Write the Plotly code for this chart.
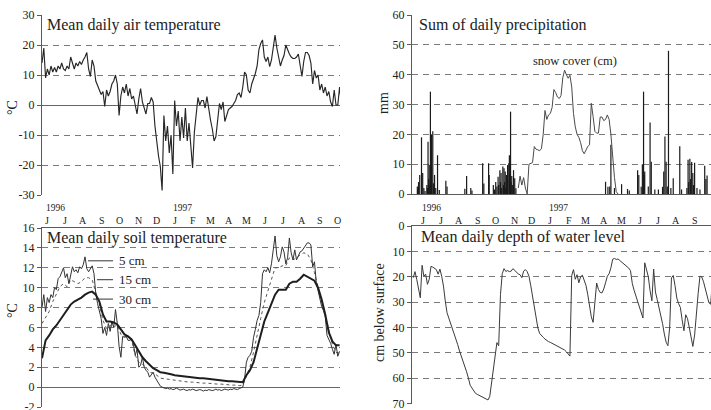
import datetime as dt
import plotly.graph_objects as go

W, H = 711, 410
FONT = "Liberation Serif, Times New Roman, serif"
INK = "#222222"
GRID = "#7a7a7a"
AXIS = "#5a5a5a"

# ---------------------------------------------------------------- data
# Left column: series sampled on a regular grid of days from LEFT_START
LEFT_START = dt.datetime(1996, 6, 8)
LEFT_SPAN_DAYS = 498.7

MONTH_LETTERS = ["J", "J", "A", "S", "O", "N", "D", "J", "F", "M",
                 "A", "M", "J", "J", "A", "S", "O"]
YEAR_LABELS = ["1996", "1997"]

AIR_STEP = 3  # days
air_temp = [
    14, 19, 9, 12, 10, 13, 11, 12.5, 11, 13,
    12, 14, 12, 11.5, 13, 12, 16, 14, 12, 14,
    13, 14.5, 13.5, 15, 16, 17.5, 12, 9.5, 15, 13,
    8, 6.5, 5, 3.5, 4.5, -0.5, 5, 3, 4.5, 7,
    8, 10, 7, -3.5, 3, 6, 4, 7, 3, 5.5,
    2, 3, 0, -3, 2, 5.5, 1, -1, -3, 0.5,
    0.5, 2.5, 1, -7, -13, -17, -20.5, -28.5, -3.5, -12,
    -7, -16, -10, -23, 1.5, -7, -2, -12, -4, -11,
    -1, -12, -6, -14, -21, -9, -3, 2.5, 0, 1.5,
    1.5, -1, 2.8, -1.5, -5, -8, -12, -10.5, -4, 0.5,
    -1.5, 1, -5.5, -3, -1.5, -1, -0.5, 0.5, 1.5, 3.5,
    4, 2.5, 6, 11, 10, 5, 4, 7, 8.5, 10.5,
    13, 18.5, 20.5, 21.7, 16, 14.5, 16, 12.8, 15, 19.5,
    23.3, 19, 15.5, 13, 15, 16.5, 20, 18.3, 17, 16,
    15.5, 15.5, 16, 17, 13.5, 9.5, 14.5, 17.5, 17.5, 16.5,
    14, 7, 11.5, 9, 10, 5, 7, 4, 6, 3,
    4.5, 1, -0.5, 5, 0, 0, 6, 0.5,
]

SOIL5_STEP = 3
soil_5cm = [
    8.0, 9.3, 7.6, 9.0, 8.5, 9.3, 9.0, 10.0, 9.8, 10.9,
    11.1, 11.6, 12.0, 11.0, 11.4, 10.4, 11.3, 12.1, 11.6, 11.8,
    11.5, 12.1, 11.9, 12.3, 13.1, 11.9, 11.6, 11.9, 12.2, 11.4,
    9.4, 8.4, 7.6, 6.9, 5.4, 6.0, 5.2, 6.4, 5.6, 6.6,
    6.0, 7.8, 6.4, 4.1, 3.0, 5.1, 5.0, 5.1, 4.7, 4.7,
    4.8, 4.3, 3.2, 3.8, 2.0, 2.2, 3.0, 2.0, 1.7, 1.5,
    1.0, 1.2, 1.5, 1.0, 0.7, 0.4, 0.1,
    0.0, -0.1, -0.15, -0.1, -0.2, -0.15, -0.25, -0.2, -0.1, -0.2,
    -0.3, -0.25, -0.2, -0.3, -0.35, -0.25, -0.3, -0.2, -0.3, -0.35,
    -0.3, -0.25, -0.3, -0.4, -0.3, -0.35, -0.25, -0.3, -0.35, -0.3,
    -0.2, -0.3, -0.25, -0.35, -0.3, -0.2, -0.25, -0.3, -0.2, -0.25,
    -0.15, -0.2, -0.25, -0.15, -0.1, 0.0,
    0.8, 2.5, 3.0, 3.2, 3.6, 5.0, 5.8, 6.7, 7.2, 8.5,
    11.4, 11.8, 11.6, 12.0, 11.5, 12.4, 13.8, 15.2, 13.2, 12.6,
    13.1, 14.1, 13.6, 12.4, 13.0, 15.0, 13.5, 12.8, 13.8, 12.8,
    13.2, 13.6, 13.7, 14.0, 14.2, 14.5, 14.5, 14.3, 12.1, 12.6,
    10.5, 9.6, 8.9, 8.1, 7.7, 7.1, 5.2, 4.8, 4.4, 3.8,
    3.3, 4.3, 3.1, 3.6,
]

SOIL_DEEP_STEP = 6
soil_15cm = [
    6.4, 7.0, 7.6, 8.6, 9.3, 10.1, 10.4, 10.1, 10.8, 10.6,
    10.4, 10.6, 11.0, 11.0, 10.8, 9.5, 8.4, 6.7, 5.9, 6.2,
    6.0, 6.3, 5.3, 5.1, 5.0, 4.7, 3.2, 2.5, 2.3, 2.0,
    1.5, 1.4, 1.2, 0.9, 0.85, 0.8, 0.7, 0.65, 0.6, 0.55,
    0.5, 0.5, 0.5, 0.45, 0.45, 0.4, 0.4, 0.35, 0.35, 0.3,
    0.3, 0.25, 0.25, 0.2, 0.2, 0.15, 0.2, 1.2, 2.0, 3.5,
    5.3, 6.9, 8.5, 9.6, 10.9, 12.0, 12.0, 12.2, 12.2, 13.0,
    12.8, 13.0, 13.3, 13.5, 13.4, 12.8, 11.5, 10.0, 8.8, 7.0,
    5.5, 4.3, 3.5, 3.4,
]
soil_30cm = [
    2.9, 4.7, 5.2, 5.8, 6.2, 6.7, 7.2, 7.8, 8.3, 8.6,
    8.8, 9.0, 9.3, 9.5, 9.6, 9.3, 8.6, 7.3, 6.6, 6.6,
    6.5, 6.3, 5.8, 5.3, 5.1, 4.8, 4.2, 3.6, 3.0, 2.6,
    2.2, 1.9, 1.7, 1.5, 1.45, 1.4, 1.3, 1.2, 1.15, 1.1,
    1.05, 1.0, 1.0, 0.95, 0.9, 0.9, 0.85, 0.8, 0.75, 0.7,
    0.7, 0.65, 0.6, 0.6, 0.55, 0.5, 0.5, 1.2, 1.7, 2.5,
    3.8, 5.2, 6.6, 7.5, 8.5, 9.3, 9.8, 9.8, 9.8, 10.4,
    10.6, 10.6, 10.9, 11.3, 11.1, 10.9, 10.7, 10.0, 8.8, 7.3,
    5.5, 4.6, 4.2, 4.2,
]
SOIL_LABELS = ["5 cm", "15 cm", "30 cm"]

# Right column: day offsets counted from RIGHT_START
RIGHT_START = dt.datetime(1996, 5, 27, 12)
RIGHT_SPAN_DAYS = 503.6

precip_day = [
    9, 10, 11, 13, 16, 18, 20, 22, 25, 26,
    27, 28, 29, 30, 31, 32, 33, 35, 36, 37,
    38, 40, 43, 46, 57, 59, 89, 92, 99, 101,
    119, 121, 129, 130, 137, 139, 141, 143, 145, 146,
    148, 149, 150, 151, 153, 154, 155, 156, 157, 158,
    159, 160, 161, 163, 164, 165, 166, 167, 168, 169,
    171, 173, 175,
    326, 330, 333, 335, 341, 353, 363, 366, 380, 382,
    386, 388, 390, 391, 392, 398, 401, 403, 409, 415,
    422, 424, 426, 428, 430, 432, 436, 440, 451, 454,
    463, 465, 466, 468, 469, 471, 473, 474, 476, 480,
    485, 493, 495, 497,
]
precip_mm = [
    2.5, 1.5, 4, 6.4, 19, 7, 2, 1, 3, 2,
    17.5, 5, 9.7, 3, 34.3, 8, 20, 21, 3.6, 1.5,
    6.4, 2, 13, 1.3, 4.4, 2.5, 1.8, 6, 2, 1.2,
    10.3, 3.5, 10.3, 6.4, 3, 1.5, 4, 2.5, 5.8, 3,
    8, 4, 7, 2, 9.2, 3, 8.6, 4, 7.5, 2,
    6.4, 3, 9.7, 10.3, 13, 6, 27.6, 4, 6, 3,
    8, 5.3, 1.9,
    4.1, 2.4, 2.5, 16.5, 2, 3.3, 1.7, 1.2, 8, 6.4,
    2.4, 10, 34.3, 6.4, 7.5, 2.5, 24, 10.8, 1.5, 1.5,
    2.4, 7.5, 19.3, 10.8, 2.5, 48, 2, 5.3, 16, 1.5,
    2, 11.5, 4, 11.8, 5, 10.7, 7, 3, 10.5, 2,
    1.5, 9.5, 5, 6.2,
]

SNOW_FIRST_DAY, SNOW_STEP = 179, 3
snow_cm = [
    2, 6, 3, 5.5, 2, 0, 10, 10.2, 10.5, 15.9,
    15, 14.8, 14.5, 15.2, 20, 28, 25, 26.5, 27, 29,
    35, 34, 32.5, 32, 33, 39, 41.5, 40, 38.8, 39.8,
    35.9, 27, 22.5, 20, 19, 17.2, 14.5, 13.5, 15, 15.9,
    16.5, 30.4, 26, 21, 20.4, 20.4, 25.8, 25.8, 24.6, 25,
    26.5, 25, 20, 12, 5.5, 0.8, 0,
]

WATER_FIRST_DAY, WATER_STEP = 2, 3
water_depth_cm = [
    20.4, 18, 21.1, 24.4, 28.3, 15.5, 19.8, 19, 23, 21,
    15.9, 16.2, 16.8, 17.2, 19, 17, 19.8, 23.7, 29.5, 34.2,
    36.3, 38.3, 41, 42.7, 45.1, 46.8, 49.3, 51.2, 53.4, 55.3,
    57.5, 60, 62.8, 63.9, 64.8, 66, 66.4, 66.8, 67.1, 67.5,
    68, 68.1, 68.6, 67.2, 62, 57.8, 51.2, 46, 47.2, 27,
    18.8, 16.8, 17.9, 17.6, 18, 17.8, 16.8, 17.5, 18.3, 18.9,
    19.2, 20.4, 17.8, 17.2, 18, 19.8, 23.5, 28, 33, 37,
    40.2, 42.4, 43.3, 43.9, 44.6, 45.3, 45.6, 45.9, 46.3, 46.6,
    47, 47.3, 47.7, 48, 48.4, 48.9, 49.6, 50.3, 51.3, 19.5,
    17.2, 21, 19.2, 22.4, 20, 19.4, 21.2, 23.4, 27, 31.8,
    35.8, 38, 29, 22.5, 25, 26.2, 26.4, 24.8, 22.4, 19.8,
    18.8, 16.5, 13.1, 12.8, 13.2, 13, 13.6, 14.2, 15, 15.5,
    15.9, 16.6, 17.6, 22.6, 25.3, 27.5, 29.5, 32, 33.5, 36.3,
    14.5, 17, 20, 25.5, 29.5, 17, 26, 29, 31.8, 35.3,
    38.5, 42.6, 45.8, 47.2, 40, 20.5, 19.5, 23.5, 28.4, 30.6,
    32.1, 37, 41.3, 35, 36.5, 40, 44.5, 47.5, 43, 33.5,
    26.5, 19.8, 20.1, 22, 24.7, 27.5, 30.2, 30.9, 21.5,
]

# Tick values of the four value axes
AIR_TICKS = [-30, -20, -10, 0, 10, 20, 30]
PRECIP_TICKS = [0, 10, 20, 30, 40, 50, 60]
SOIL_TICKS = [-2, 0, 2, 4, 6, 8, 10, 12, 14, 16]
WATER_TICKS = [0, 10, 20, 30, 40, 50, 60, 70]


# ---------------------------------------------------------------- helpers
def grid_dates(start, first, step, n):
    return [start + dt.timedelta(days=first + step * i) for i in range(n)]


def day(start, offset):
    return start + dt.timedelta(days=offset)


def month_ticks(day_of_month):
    out = []
    y, m = 1996, 6
    for _ in MONTH_LETTERS:
        out.append(dt.datetime(y, m, day_of_month, 8))
        m += 1
        if m > 12:
            y, m = y + 1, 1
    return out


def px(x):
    return x / W


def py(y):
    return 1 - y / H


fig = go.Figure()

# Mean daily air temperature
fig.add_trace(go.Scatter(
    x=grid_dates(LEFT_START, 0, AIR_STEP, len(air_temp)), y=air_temp,
    mode="lines", line=dict(color="#262626", width=1.15),
    xaxis="x", yaxis="y"))

# Daily precipitation drawn as thin vertical strokes, then snow cover
stem_x, stem_y = [], []
for d, mm in zip(precip_day, precip_mm):
    t = day(RIGHT_START, d)
    stem_x += [t, t, None]
    stem_y += [0, mm, None]
fig.add_trace(go.Scatter(
    x=stem_x, y=stem_y, mode="lines", connectgaps=False,
    line=dict(color="#1a1a1a", width=1.2),
    xaxis="x2", yaxis="y2"))
fig.add_trace(go.Scatter(
    x=grid_dates(RIGHT_START, SNOW_FIRST_DAY, SNOW_STEP, len(snow_cm)),
    y=snow_cm, mode="lines", line=dict(color="#4a4a4a", width=1),
    xaxis="x2", yaxis="y2"))

# Soil temperature at three depths
fig.add_trace(go.Scatter(
    x=grid_dates(LEFT_START, 0, SOIL_DEEP_STEP, len(soil_15cm)), y=soil_15cm,
    mode="lines", line=dict(color="#555555", width=1, dash="dot"),
    xaxis="x3", yaxis="y3"))
fig.add_trace(go.Scatter(
    x=grid_dates(LEFT_START, 0, SOIL5_STEP, len(soil_5cm)), y=soil_5cm,
    mode="lines", line=dict(color="#333333", width=1),
    xaxis="x3", yaxis="y3"))
fig.add_trace(go.Scatter(
    x=grid_dates(LEFT_START, 0, SOIL_DEEP_STEP, len(soil_30cm)), y=soil_30cm,
    mode="lines", line=dict(color="#1e1e1e", width=2),
    xaxis="x3", yaxis="y3"))

# Water level depth
fig.add_trace(go.Scatter(
    x=grid_dates(RIGHT_START, WATER_FIRST_DAY, WATER_STEP, len(water_depth_cm)),
    y=water_depth_cm, mode="lines", line=dict(color="#3a3a3a", width=1),
    xaxis="x4", yaxis="y4"))

# ---------------------------------------------------------------- axes
X_LEFT = [px(42), px(340)]
X_RIGHT = [px(412), 1.0]


def yaxis(domain, rng, ticks, zeroline=False, **kw):
    d = dict(domain=domain, range=rng, tickvals=ticks,
             ticktext=[str(v) for v in ticks],
             automargin=False, ticklabeloverflow="allow",
             showgrid=True, gridcolor=GRID, gridwidth=1, griddash="6px,5px",
             zeroline=zeroline, zerolinecolor="#666666", zerolinewidth=1,
             showline=True, linecolor=AXIS, linewidth=1,
             ticks="outside", ticklen=4, tickcolor=AXIS,
             tickfont=dict(family=FONT, size=12, color=INK))
    d.update(kw)
    return d


def time_axis(domain, anchor, start, span, side, line):
    return dict(domain=domain, anchor=anchor, type="date", side=side,
                range=[start, day(start, span)], automargin=False,
                showticklabels=False, ticks="", showgrid=False,
                zeroline=False, showline=line, linecolor=AXIS, linewidth=1)


fig.update_layout(
    template="none",
    xaxis=time_axis(X_LEFT, "y", LEFT_START, LEFT_SPAN_DAYS, "bottom", False),
    xaxis2=time_axis(X_RIGHT, "y2", RIGHT_START, RIGHT_SPAN_DAYS, "bottom", True),
    xaxis3=time_axis(X_LEFT, "y3", LEFT_START, LEFT_SPAN_DAYS, "top", True),
    xaxis4=time_axis(X_RIGHT, "y4", RIGHT_START, RIGHT_SPAN_DAYS, "top", True),
    yaxis=yaxis([py(195), py(15)], [-30, 30], AIR_TICKS, zeroline=True, anchor="x"),
    yaxis2=yaxis([py(194), py(15)], [0, 60], PRECIP_TICKS, anchor="x2"),
    yaxis3=yaxis([py(407), py(228)], [-2, 16], SOIL_TICKS, zeroline=True, anchor="x3"),
    yaxis4=yaxis([py(403.5), py(226)], [70, 0], WATER_TICKS, anchor="x4"),
)

# ---------------------------------------------------------------- text
annotations = []


def text(x, y, s, size, xanchor="left", angle=0, xref="paper"):
    annotations.append(dict(
        x=x, y=y, xref=xref, yref="paper", text=s, showarrow=False,
        xanchor=xanchor, yanchor="middle", textangle=angle,
        font=dict(family=FONT, size=size, color=INK)))


text(px(45), py(25), "Mean daily air temperature", 16)
text(px(417), py(25), "Sum of daily precipitation", 16)
text(px(45), py(238), "Mean daily soil temperature", 16)
text(px(419), py(237), "Mean daily depth of water level", 16)
text(px(575), py(61), "snow cover (cm)", 12.5, xanchor="center")
text(px(12), py(107), "°C", 14, xanchor="center", angle=-90)
text(px(12), py(310), "°C", 14, xanchor="center", angle=-90)
text(px(383), py(103), "mm", 14, xanchor="center", angle=-90)
text(px(379), py(313), "cm below surface", 14, xanchor="center", angle=-90)

# Year labels under the upper panels, month initials above the lower ones
for ref, start, offsets in (("x", LEFT_START, [21.75, 235.9]),
                            ("x2", RIGHT_START, [32.0, 245.9])):
    for lab, off in zip(YEAR_LABELS, offsets):
        text(day(start, off), py(207.5), lab, 9.5, xanchor="center", xref=ref)
for ref, dom in (("x3", 16), ("x4", 15)):
    for lab, t in zip(MONTH_LETTERS, month_ticks(dom)):
        text(t, py(220.5), lab, 10, xanchor="center", xref=ref)

# Depth labels with leader lines inside the soil panel
label_levels = [12.7, 10.8, 8.85]
leader_from = [77.0, 92.0, 85.3]
leader_to = 118.8
label_at = 125.5
shapes = []
for name, lvl, x0 in zip(SOIL_LABELS, label_levels, leader_from):
    shapes.append(dict(type="line", xref="x3", yref="y3",
                       x0=day(LEFT_START, x0), x1=day(LEFT_START, leader_to),
                       y0=lvl, y1=lvl, line=dict(color="#333333", width=1)))
    annotations.append(dict(
        x=day(LEFT_START, label_at), y=lvl, xref="x3", yref="y3", text=name,
        showarrow=False, xanchor="left", yanchor="middle",
        font=dict(family=FONT, size=13, color=INK)))

fig.update_layout(
    width=W, height=H, autosize=False,
    margin=dict(l=0, r=0, t=0, b=0, pad=0),
    paper_bgcolor="white", plot_bgcolor="white",
    showlegend=False,
    annotations=annotations, shapes=shapes,
)

fig.write_html("out.html", config={"displayModeBar": False})
